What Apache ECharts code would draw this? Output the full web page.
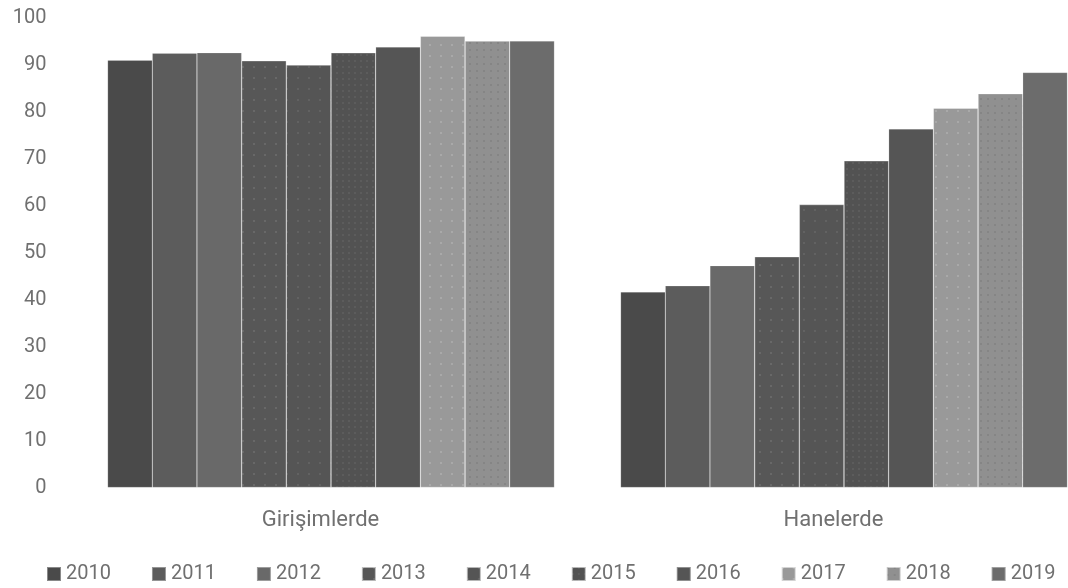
<!DOCTYPE html>
<html>
<head>
<meta charset="utf-8">
<script src="https://cdn.jsdelivr.net/npm/echarts@6/dist/echarts.min.js"></script>
<style>
  html, body { margin: 0; padding: 0; background: #fff; }
  #chart { width: 1068px; height: 588px; }
</style>
</head>
<body>
<div id="chart"></div>
<script>
// Internet access (%) in enterprises and households, by year
const categories = ['Girişimlerde', 'Hanelerde'];
const years = ['2010', '2011', '2012', '2013', '2014', '2015', '2016', '2017', '2018', '2019'];
const enterprises = [90.9, 92.4, 92.5, 90.8, 89.9, 92.5, 93.7, 96.0, 95.0, 95.0];
const households = [41.6, 42.9, 47.2, 49.1, 60.2, 69.5, 76.3, 80.7, 83.8, 88.3];
const yTicks = [0, 10, 20, 30, 40, 50, 60, 70, 80, 90, 100];

const palette = ['#4a4a4a', '#5c5c5c', '#696969', '#575757', '#555555',
                 '#525252', '#555555', '#999999', '#909090', '#6c6c6c'];
const fontFamily = 'Roboto, "Liberation Sans", sans-serif';
const textColor = '#707070';

// faint dotted fills used on some of the years
function dots(step, color) {
  return { symbol: 'rect', symbolSize: 1, color: color,
           dashArrayX: [1.5, step - 1.5], dashArrayY: [1.5, step - 1.5], rotation: 0 };
}
const textures = [null, null, null,
  dots(10, 'rgba(255,255,255,0.10)'), dots(10, 'rgba(255,255,255,0.08)'),
  dots(5, 'rgba(255,255,255,0.06)'), null,
  dots(10, 'rgba(255,255,255,0.16)'), dots(6, 'rgba(0,0,0,0.07)'), null];

const chart = echarts.init(document.getElementById('chart'), null, { renderer: 'canvas' });

const series = years.map((y, i) => {
  const itemStyle = { color: palette[i], borderColor: 'rgba(255,255,255,0.35)', borderWidth: 0.5 };
  if (textures[i]) itemStyle.decal = textures[i];
  return {
    name: y,
    type: 'bar',
    data: [enterprises[i], households[i]],
    barGap: '0%',
    barCategoryGap: '12.9%',
    itemStyle: itemStyle,
    emphasis: { disabled: true }
  };
});

chart.setOption({
  animation: false,
  textStyle: { fontFamily: fontFamily },
  // the right-hand group runs flush to the edge of the canvas
  grid: { left: 74.5, right: -32.5, top: 17.5, bottom: 100.5, outerBoundsMode: 'none', containLabel: false },
  legend: {
    data: years,
    top: 559,
    left: 41,
    width: 1027,
    icon: 'rect',
    itemWidth: 14,
    itemHeight: 14,
    itemGap: 40,
    textStyle: { fontFamily: fontFamily, fontSize: 20, color: textColor }
  },
  xAxis: {
    type: 'category',
    data: categories,
    axisLine: { show: false },
    axisTick: { show: false },
    axisLabel: {
      fontFamily: fontFamily, fontSize: 22, color: textColor, margin: 22,
      padding: [0, 21, 0, 0]
    }
  },
  yAxis: {
    type: 'value',
    min: yTicks[0],
    max: yTicks[yTicks.length - 1],
    interval: 10,
    splitLine: { show: false },
    axisLine: { show: false },
    axisTick: { show: false },
    axisLabel: { fontFamily: fontFamily, fontSize: 20, color: textColor, margin: 28 }
  },
  series: series
});
</script>
</body>
</html>
